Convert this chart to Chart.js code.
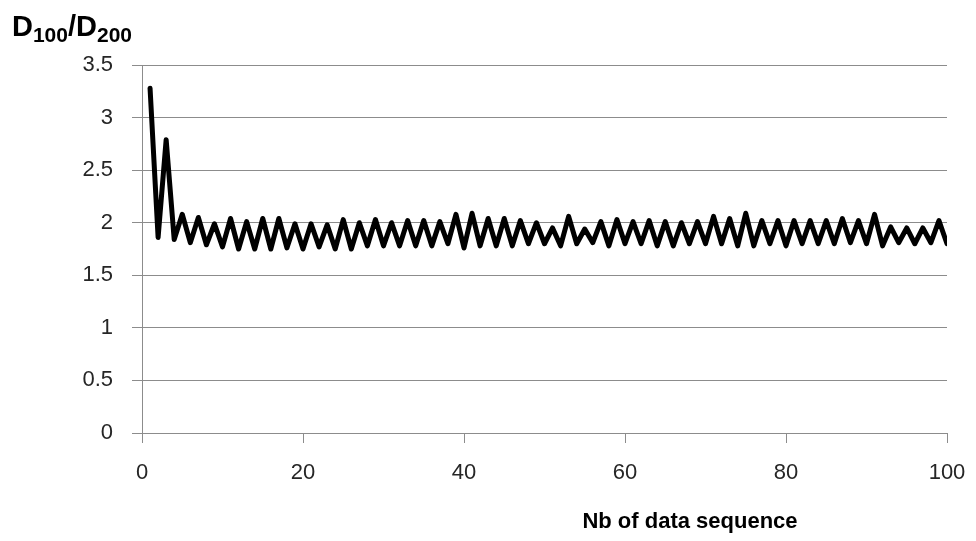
<!DOCTYPE html>
<html>
<head>
<meta charset="utf-8">
<script src="https://cdn.jsdelivr.net/npm/chart.js@4.4.1/dist/chart.umd.min.js"></script>
<style>
  html, body { margin: 0; padding: 0; background: #fff; }
  #wrap { position: relative; width: 976px; height: 541px; }
</style>
</head>
<body>
<div id="wrap"><canvas id="myChart" width="976" height="541"></canvas></div>
<script>
// sequence numbers (x) and the D100/D200 ratio
const secuencia = [1,2,3,4,5,6,7,8,9,10,11,12,13,14,15,16,17,18,19,20,
  21,22,23,24,25,26,27,28,29,30,31,32,33,34,35,36,37,38,39,40,
  41,42,43,44,45,46,47,48,49,50,51,52,53,54,55,56,57,58,59,60,
  61,62,63,64,65,66,67,68,69,70,71,72,73,74,75,76,77,78,79,80,
  81,82,83,84,85,86,87,88,89,90,91,92,93,94,95,96,97,98,99,100]

const ratio = [3.28,1.86,2.79,1.84,2.08,1.81,2.05,1.79,1.99,1.77,
  2.04,1.75,2.01,1.75,2.04,1.75,2.04,1.76,1.99,1.75,
  1.99,1.77,1.98,1.75,2.03,1.75,2.00,1.78,2.03,1.78,
  2.00,1.78,2.02,1.78,2.02,1.78,2.01,1.80,2.08,1.76,
  2.09,1.78,2.04,1.78,2.04,1.78,2.02,1.80,2.00,1.80,
  1.95,1.78,2.06,1.80,1.94,1.81,2.01,1.78,2.03,1.80,
  2.01,1.80,2.02,1.78,2.01,1.78,2.00,1.80,2.01,1.80,
  2.06,1.80,2.04,1.78,2.09,1.78,2.02,1.80,2.02,1.78,
  2.02,1.80,2.02,1.80,2.02,1.80,2.04,1.81,2.02,1.80,
  2.08,1.78,1.96,1.81,1.95,1.80,1.95,1.81,2.02,1.80]

const tituloX = 'Nb of data sequence'
const tituloY = ['D', '100', '/D', '200']   // main, sub, main, sub

const fuente = '"Liberation Sans", Arial, sans-serif'

// axis titles drawn by hand (subscripts + off-centre position)
const titulos = {
  id: 'titulos',
  afterDraw (chart) {
    const ctx = chart.ctx
    ctx.save()
    ctx.fillStyle = '#000'
    ctx.textBaseline = 'alphabetic'
    ctx.textAlign = 'left'
    let x = 12
    tituloY.forEach((t, i) => {
      const sub = i % 2 === 1
      ctx.font = 'bold ' + (sub ? 21 : 29) + 'px ' + fuente
      ctx.fillText(t, x, sub ? 42 : 36)
      x += ctx.measureText(t).width
    })
    ctx.font = 'bold 22px ' + fuente
    ctx.textAlign = 'center'
    ctx.fillText(tituloX, 690, 528)
    ctx.restore()
  }
}

const ctx = document.getElementById('myChart').getContext('2d')
const myChart = new Chart(ctx, {
  type: 'line',
  data: {
    datasets: [{
      label: 'D100/D200',
      data: secuencia.map((s, i) => ({ x: s, y: ratio[i] })),
      borderColor: '#000',
      borderWidth: 5,
      borderJoinStyle: 'round',
      borderCapStyle: 'round',
      pointRadius: 0,
      tension: 0,
      fill: false
    }]
  },
  options: {
    responsive: false,
    animation: false,
    layout: {
      padding: { left: 0, right: 29, top: 65, bottom: 0 }
    },
    plugins: {
      legend: { display: false },
      tooltip: { enabled: false }
    },
    scales: {
      x: {
        type: 'linear',
        min: 0,
        max: 100,
        ticks: {
          stepSize: 20,
          color: '#262626',
          font: { family: fuente, size: 22 },
          padding: 17,
          maxRotation: 0
        },
        grid: {
          drawOnChartArea: false,
          drawTicks: true,
          tickLength: 10,
          color: '#8c8c8c'
        },
        border: { display: true, color: '#8c8c8c', width: 1 },
        afterFit (scale) {
          scale.height = 108
          scale.paddingLeft = 0
          scale.paddingRight = 0
        }
      },
      y: {
        min: 0,
        max: 3.5,
        ticks: {
          stepSize: 0.5,
          color: '#262626',
          font: { family: fuente, size: 22 },
          padding: 19,
          callback: (v) => String(Math.round(v * 10) / 10)
        },
        grid: {
          color: '#8c8c8c',
          lineWidth: 1,
          drawTicks: true,
          tickLength: 10
        },
        border: { display: true, color: '#8c8c8c', width: 1 },
        afterFit (scale) {
          scale.width = 142
          scale.paddingTop = 0
          scale.paddingBottom = 0
        }
      }
    }
  },
  plugins: [titulos]
})
</script>
</body>
</html>
